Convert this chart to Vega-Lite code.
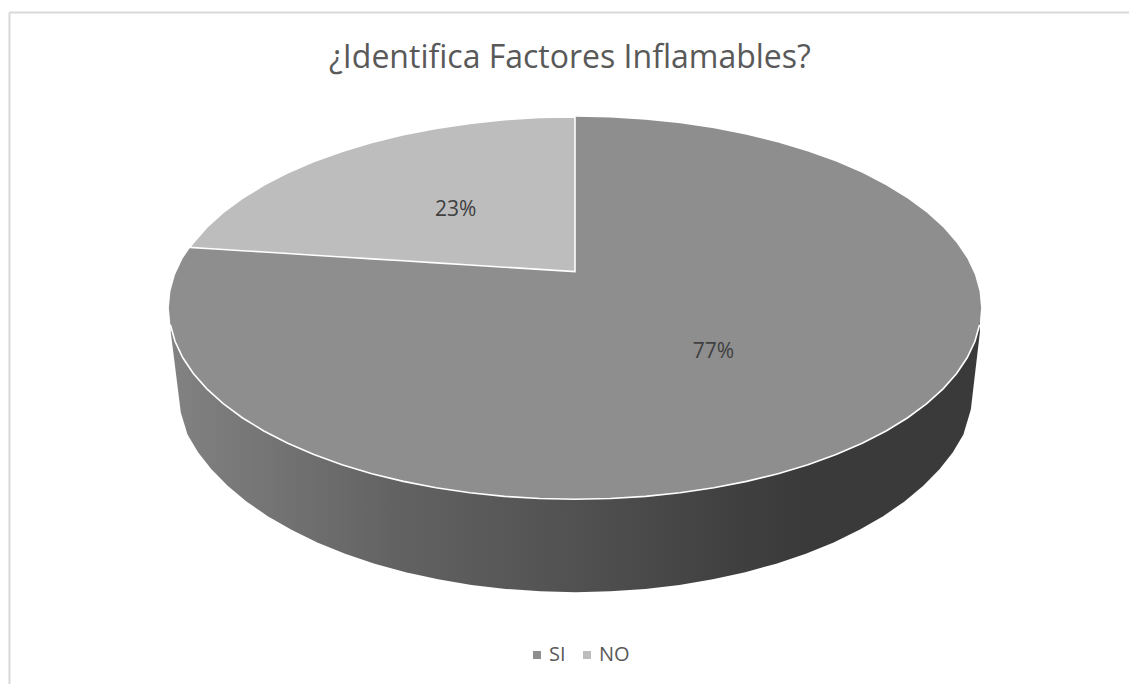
{
  "$schema": "https://vega.github.io/schema/vega-lite/v6.json",
  "width": 1130,
  "height": 685,
  "padding": 0,
  "autosize": {"type": "fit", "contains": "padding"},
  "background": "#ffffff",
  "config": {"view": {"stroke": null}},
  "datasets": {
    "marco": [
      {"u": -1.3924, "v": 1.5457, "u2": -1.3924, "v2": -1.966},
      {"u": -1.3924, "v": 1.5457, "u2": 1.3641, "v2": 1.5457}
    ],
    "pared": [
      {"u": -0.9951, "v": 0, "v2": -0.128},
      {"u": -0.9705, "v": 0, "v2": -0.5457},
      {"u": -0.954, "v": 0, "v2": -0.6613},
      {"u": -0.9281, "v": 0, "v2": -0.7538},
      {"u": -0.8951, "v": 0, "v2": -0.8435},
      {"u": -0.8552, "v": 0, "v2": -0.9296},
      {"u": -0.8089, "v": 0, "v2": -1.0114},
      {"u": -0.7564, "v": 0, "v2": -1.0884},
      {"u": -0.6981, "v": 0, "v2": -1.1599},
      {"u": -0.6345, "v": 0, "v2": -1.2255},
      {"u": -0.566, "v": 0, "v2": -1.2845},
      {"u": -0.4933, "v": 0, "v2": -1.3367},
      {"u": -0.4167, "v": 0, "v2": -1.3815},
      {"u": -0.337, "v": 0, "v2": -1.4186},
      {"u": -0.2548, "v": 0, "v2": -1.4478},
      {"u": -0.1705, "v": 0, "v2": -1.4688},
      {"u": -0.085, "v": 0, "v2": -1.4815},
      {"u": 0.0012, "v": 0, "v2": -1.4857},
      {"u": 0.0874, "v": 0, "v2": -1.4815},
      {"u": 0.1729, "v": 0, "v2": -1.4688},
      {"u": 0.2572, "v": 0, "v2": -1.4478},
      {"u": 0.3394, "v": 0, "v2": -1.4186},
      {"u": 0.4191, "v": 0, "v2": -1.3815},
      {"u": 0.4957, "v": 0, "v2": -1.3367},
      {"u": 0.5684, "v": 0, "v2": -1.2845},
      {"u": 0.6369, "v": 0, "v2": -1.2255},
      {"u": 0.7005, "v": 0, "v2": -1.1599},
      {"u": 0.7588, "v": 0, "v2": -1.0884},
      {"u": 0.8113, "v": 0, "v2": -1.0114},
      {"u": 0.8576, "v": 0, "v2": -0.9296},
      {"u": 0.8975, "v": 0, "v2": -0.8435},
      {"u": 0.9305, "v": 0, "v2": -0.7538},
      {"u": 0.9564, "v": 0, "v2": -0.6613},
      {"u": 0.9747, "v": 0, "v2": -0.53},
      {"u": 0.9969, "v": 0, "v2": -0.128}
    ],
    "disco": [
      {"categoria": "SI", "u": -1, "v": 0, "v2": 0},
      {"categoria": "SI", "u": -0.99619, "v": 0.08716, "v2": -0.08716},
      {"categoria": "SI", "u": -0.98481, "v": 0.17365, "v2": -0.17365},
      {"categoria": "SI", "u": -0.96593, "v": 0.25882, "v2": -0.25882},
      {"categoria": "SI", "u": -0.93969, "v": 0.34202, "v2": -0.34202},
      {"categoria": "SI", "u": -0.90631, "v": 0.42262, "v2": -0.42262},
      {"categoria": "SI", "u": -0.86603, "v": 0.5, "v2": -0.5},
      {"categoria": "SI", "u": -0.81915, "v": 0.57358, "v2": -0.57358},
      {"categoria": "SI", "u": -0.76604, "v": 0.64279, "v2": -0.64279},
      {"categoria": "SI", "u": -0.70711, "v": 0.70711, "v2": -0.70711},
      {"categoria": "SI", "u": -0.64279, "v": 0.76604, "v2": -0.76604},
      {"categoria": "SI", "u": -0.57358, "v": 0.81915, "v2": -0.81915},
      {"categoria": "SI", "u": -0.5, "v": 0.86603, "v2": -0.86603},
      {"categoria": "SI", "u": -0.42262, "v": 0.90631, "v2": -0.90631},
      {"categoria": "SI", "u": -0.34202, "v": 0.93969, "v2": -0.93969},
      {"categoria": "SI", "u": -0.25882, "v": 0.96593, "v2": -0.96593},
      {"categoria": "SI", "u": -0.17365, "v": 0.98481, "v2": -0.98481},
      {"categoria": "SI", "u": -0.08716, "v": 0.99619, "v2": -0.99619},
      {"categoria": "SI", "u": 0, "v": 1, "v2": -1},
      {"categoria": "SI", "u": 0.08716, "v": 0.99619, "v2": -0.99619},
      {"categoria": "SI", "u": 0.17365, "v": 0.98481, "v2": -0.98481},
      {"categoria": "SI", "u": 0.25882, "v": 0.96593, "v2": -0.96593},
      {"categoria": "SI", "u": 0.34202, "v": 0.93969, "v2": -0.93969},
      {"categoria": "SI", "u": 0.42262, "v": 0.90631, "v2": -0.90631},
      {"categoria": "SI", "u": 0.5, "v": 0.86603, "v2": -0.86603},
      {"categoria": "SI", "u": 0.57358, "v": 0.81915, "v2": -0.81915},
      {"categoria": "SI", "u": 0.64279, "v": 0.76604, "v2": -0.76604},
      {"categoria": "SI", "u": 0.70711, "v": 0.70711, "v2": -0.70711},
      {"categoria": "SI", "u": 0.76604, "v": 0.64279, "v2": -0.64279},
      {"categoria": "SI", "u": 0.81915, "v": 0.57358, "v2": -0.57358},
      {"categoria": "SI", "u": 0.86603, "v": 0.5, "v2": -0.5},
      {"categoria": "SI", "u": 0.90631, "v": 0.42262, "v2": -0.42262},
      {"categoria": "SI", "u": 0.93969, "v": 0.34202, "v2": -0.34202},
      {"categoria": "SI", "u": 0.96593, "v": 0.25882, "v2": -0.25882},
      {"categoria": "SI", "u": 0.98481, "v": 0.17365, "v2": -0.17365},
      {"categoria": "SI", "u": 0.99619, "v": 0.08716, "v2": -0.08716},
      {"categoria": "SI", "u": 1, "v": 0, "v2": 0},
      {"categoria": "NO", "u": -0.9483, "v": 0.3173, "v2": 0.3173},
      {"categoria": "NO", "u": -0.93969, "v": 0.34202, "v2": 0.3162},
      {"categoria": "NO", "u": -0.90631, "v": 0.42262, "v2": 0.3117},
      {"categoria": "NO", "u": -0.86603, "v": 0.5, "v2": 0.3063},
      {"categoria": "NO", "u": -0.81915, "v": 0.57358, "v2": 0.3},
      {"categoria": "NO", "u": -0.76604, "v": 0.64279, "v2": 0.293},
      {"categoria": "NO", "u": -0.70711, "v": 0.70711, "v2": 0.2851},
      {"categoria": "NO", "u": -0.64279, "v": 0.76604, "v2": 0.2765},
      {"categoria": "NO", "u": -0.57358, "v": 0.81915, "v2": 0.2672},
      {"categoria": "NO", "u": -0.5, "v": 0.86603, "v2": 0.2574},
      {"categoria": "NO", "u": -0.42262, "v": 0.90631, "v2": 0.2471},
      {"categoria": "NO", "u": -0.34202, "v": 0.93969, "v2": 0.2363},
      {"categoria": "NO", "u": -0.25882, "v": 0.96593, "v2": 0.2252},
      {"categoria": "NO", "u": -0.17365, "v": 0.98481, "v2": 0.2138},
      {"categoria": "NO", "u": -0.08716, "v": 0.99619, "v2": 0.2022},
      {"categoria": "NO", "u": 0, "v": 1, "v2": 0.1906}
    ],
    "etiquetas": [
      {"categoria": "SI", "valor": 0.77, "u": 0.3407, "v": -0.2324},
      {"categoria": "NO", "valor": 0.23, "u": -0.294, "v": 0.5144}
    ],
    "titulo": [
      {"texto": "¿Identifica Factores Inflamables?", "u": -0.0123, "v": 1.3081}
    ]
  },
  "encoding": {
    "x": {"field": "u", "type": "quantitative", "axis": null,
      "scale": {"domain": [-1.4157, 1.3641], "nice": false, "zero": false}},
    "y": {"field": "v", "type": "quantitative", "axis": null,
      "scale": {"domain": [-1.966, 1.611], "nice": false, "zero": false}}
  },
  "layer": [
    {
      "data": {"name": "marco"},
      "mark": {"type": "rule", "color": "#d9d9d9", "strokeWidth": 2},
      "encoding": {
        "x2": {"field": "u2"},
        "y2": {"field": "v2"}
      }
    },
    {
      "data": {"name": "pared"},
      "mark": {
        "type": "area",
        "color": {
          "gradient": "linear", "x1": 0, "x2": 1, "y1": 0, "y2": 0,
          "stops": [
            {"offset": 0, "color": "#828282"},
            {"offset": 0.28, "color": "#626262"},
            {"offset": 0.5, "color": "#515151"},
            {"offset": 0.68, "color": "#414141"},
            {"offset": 0.78, "color": "#3a3a3a"},
            {"offset": 1, "color": "#3a3a3a"}
          ]
        }
      },
      "encoding": {
        "y2": {"field": "v2"}
      }
    },
    {
      "data": {"name": "disco"},
      "transform": [{"filter": "datum.categoria === 'SI'"}],
      "mark": {"type": "area"},
      "encoding": {
        "y2": {"field": "v2"},
        "color": {
          "field": "categoria", "type": "nominal",
          "scale": {"domain": ["SI", "NO"], "range": ["#8e8e8e", "#bdbdbd"]},
          "legend": {
            "title": null, "orient": "none", "legendX": 527, "legendY": 645,
            "direction": "horizontal", "symbolType": "square", "symbolSize": 64,
            "symbolStrokeWidth": 0, "labelFont": "Open Sans", "labelFontSize": 20,
            "labelColor": "#595959", "labelOffset": 2, "columnPadding": 11
          }
        }
      }
    },
    {
      "data": {"name": "disco"},
      "transform": [{"filter": "datum.categoria === 'SI' && abs(datum.u) < 0.997"}],
      "mark": {"type": "line", "color": "#ffffff", "strokeWidth": 1.6},
      "encoding": {
        "y": {"field": "v2", "type": "quantitative"}
      }
    },
    {
      "data": {"name": "disco"},
      "transform": [{"filter": "datum.categoria === 'NO'"}],
      "mark": {"type": "area", "stroke": "#ffffff", "strokeWidth": 1.6},
      "encoding": {
        "y2": {"field": "v2"},
        "color": {"field": "categoria", "type": "nominal"}
      }
    },
    {
      "data": {"name": "etiquetas"},
      "mark": {"type": "text", "font": "Open Sans", "fontSize": 21, "color": "#404040", "baseline": "middle", "align": "center"},
      "encoding": {
        "text": {"field": "valor", "type": "quantitative", "format": ".0%"}
      }
    },
    {
      "data": {"name": "titulo"},
      "mark": {"type": "text", "font": "Open Sans", "fontSize": 32, "color": "#595959", "baseline": "middle", "align": "center"},
      "encoding": {
        "text": {"field": "texto", "type": "nominal"}
      }
    }
  ]
}
